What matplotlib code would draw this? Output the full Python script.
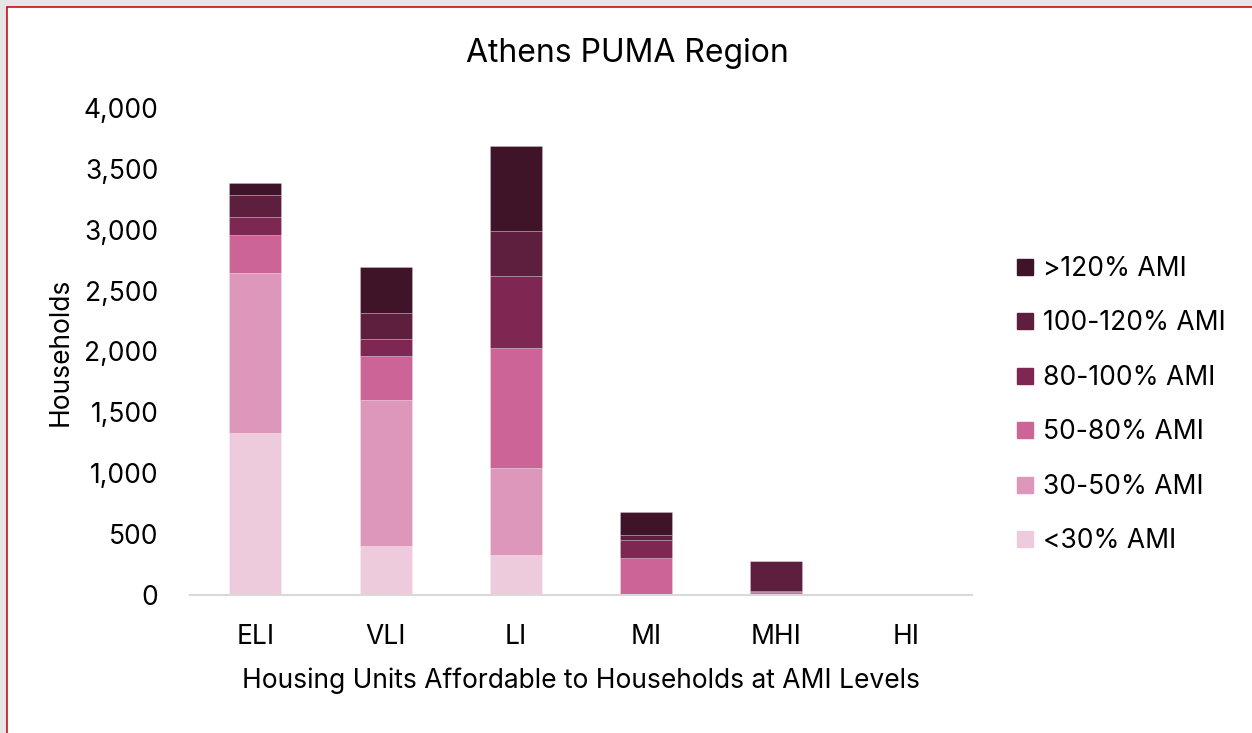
import numpy as np
from matplotlib import pyplot as plt
from matplotlib.lines import Line2D
from matplotlib.patches import Rectangle

plt.rcParams['font.family'] = ['Inter', 'DejaVu Sans']

categories = ['ELI', 'VLI', 'LI', 'MI', 'MHI', 'HI']
seriesNames = ['<30% AMI', '30-50% AMI', '50-80% AMI', '80-100% AMI', '100-120% AMI', '>120% AMI']

lt30 = [1333, 405, 326, 10, 0, 0]
ami30_50 = [1308, 1193, 719, 0, 0, 0]
ami50_80 = [312, 364, 983, 296, 30, 0]
ami80_100 = [150, 140, 594, 148, 5, 0]
ami100_120 = [181, 213, 366, 39, 244, 0]
gt120 = [101, 378, 701, 188, 0, 0]

colors = ['#EECBDC', '#DD97BA', '#CC6497', '#7E2752', '#5E1F3E', '#3F1429']

fig = plt.figure(figsize=(12.52, 7.33), dpi=100)
fig.patch.set_facecolor('white')
ax = fig.add_axes([0.152, 0.188, 0.624, 0.665])

x = np.arange(len(categories))
bottom = np.zeros(len(categories))
for vals, name, col in zip([lt30, ami30_50, ami50_80, ami80_100, ami100_120, gt120], seriesNames, colors):
    ax.bar(x, vals, width=0.4, bottom=bottom, color=col, label=name,
           edgecolor=(1, 1, 1, 0.25), linewidth=0.6)
    bottom += np.array(vals)

ax.set_xlim(-0.5, len(categories) - 0.5)
ax.set_ylim(0, 4000)
ax.set_yticks(np.arange(0, 4001, 500))
ax.set_yticklabels([f'{v:,}' for v in range(0, 4001, 500)])
ax.set_xticks(x)
ax.set_xticklabels(categories)
ax.tick_params(axis='both', length=0, labelsize=19, labelcolor='black')
ax.tick_params(axis='y', pad=23)
ax.tick_params(axis='x', pad=21)
for s in ['top', 'right', 'left']:
    ax.spines[s].set_visible(False)
ax.spines['bottom'].set_color('#D9D9D9')
ax.spines['bottom'].set_linewidth(1.5)

ax.set_ylabel('Households', fontsize=19, labelpad=7)
ax.set_xlabel('Housing Units Affordable to Households at AMI Levels', fontsize=19, labelpad=12)
# title is centred on the whole figure, not on the plot area
ax.set_title('Athens PUMA Region', fontsize=23, pad=33, x=0.56)

handles = [Line2D([0], [0], marker='s', linestyle='', markersize=12, color=c) for c in colors[::-1]]
ax.legend(handles, seriesNames[::-1], loc='center left', bbox_to_anchor=(1.056, 0.39),
          frameon=False, fontsize=19, labelspacing=1.08, handlelength=0.7,
          handletextpad=0.35, borderpad=0, borderaxespad=0)

# gray strip and red frame line on top/left like the screenshot
fig.patches.append(Rectangle((0, 0), 5 / 1252, 1, transform=fig.transFigure, color='#E6E6E6', zorder=10))
fig.patches.append(Rectangle((0, 1 - 5 / 733), 1, 5 / 733, transform=fig.transFigure, color='#E6E6E6', zorder=10))
fig.lines.append(Line2D([6 / 1252, 6 / 1252], [0, 1 - 6 / 733], transform=fig.transFigure, color='#C00000', lw=1.8))
fig.lines.append(Line2D([6 / 1252, 1], [1 - 6 / 733, 1 - 6 / 733], transform=fig.transFigure, color='#C00000', lw=1.8))

fig.savefig('out.png', dpi=100)
